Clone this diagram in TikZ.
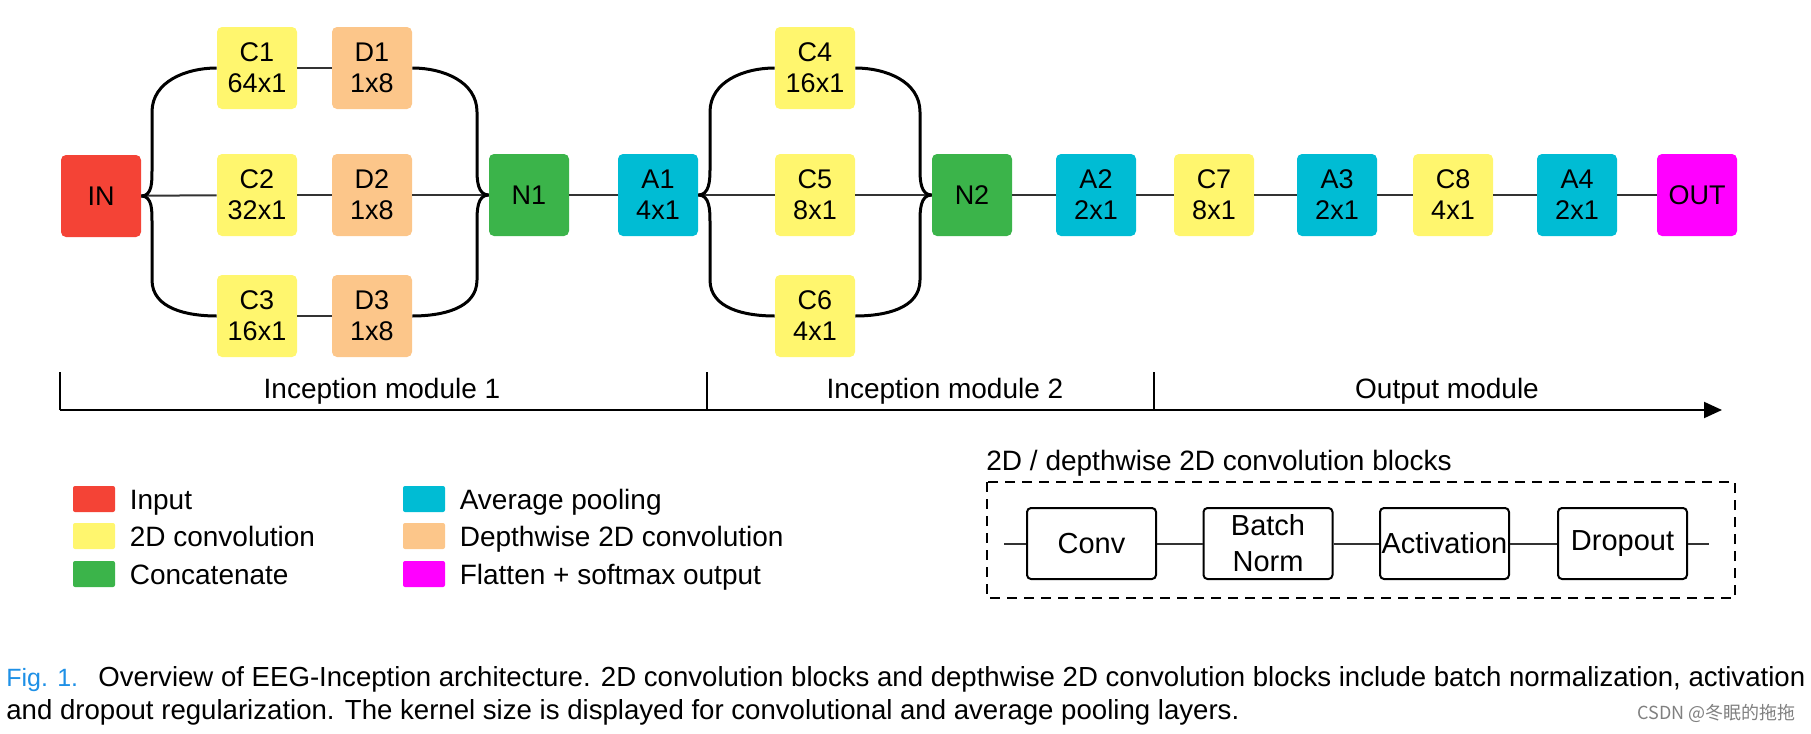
\documentclass[tikz,border=0pt]{standalone}
\usepackage{fontspec}
\setmainfont{Liberation Sans}
\newfontfamily\cjkfont{Noto Sans CJK SC}
\usepackage{tikz}
\usetikzlibrary{positioning,arrows.meta}

\definecolor{inred}{RGB}{244,67,54}
\definecolor{convyellow}{RGB}{255,246,110}
\definecolor{dwpeach}{RGB}{252,198,138}
\definecolor{catgreen}{RGB}{59,180,74}
\definecolor{poolcyan}{RGB}{0,188,212}
\definecolor{outmag}{RGB}{255,0,255}
\definecolor{figblue}{RGB}{30,144,230}
\definecolor{linegray}{RGB}{51,51,51}

\tikzset{
  layer/.style={rounded corners=2.5pt, minimum width=40pt, minimum height=41pt, inner sep=0pt, align=center, font=\fontsize{13.5}{15.5}\selectfont},
  link/.style={draw=linegray, line width=1pt},
  brace/.style={draw=black, line width=1.5pt},
  swatch/.style={rounded corners=1pt, minimum width=21pt, minimum height=13pt, inner sep=0pt},
  legtext/.style={inner sep=0pt, text height=12pt, text depth=2pt, font=\fontsize{14}{16}\selectfont},
  blockbox/.style={draw=black, line width=1pt, rounded corners=2pt, minimum width=64.5pt, minimum height=35.5pt, inner sep=0pt, align=center, font=\fontsize{14.5}{18}\selectfont},
  captext/.style={anchor=base west, inner sep=0pt, font=\fontsize{13.8}{16}\selectfont},
}

\begin{document}
\begin{tikzpicture}[x=0.5pt, y=0.5pt]
\useasboundingbox (0,0) rectangle (1811,-734);

% Layers
\node[layer, fill=inred] (IN) at (101,-196) {IN};
\node[layer, fill=convyellow] (C1) at (257,-68) {C1\\64x1};
\node[layer, fill=convyellow] (C2) at (257,-195) {C2\\32x1};
\node[layer, fill=convyellow] (C3) at (257,-316) {C3\\16x1};
\node[layer, fill=dwpeach] (D1) at (372,-68) {D1\\1x8};
\node[layer, fill=dwpeach] (D2) at (372,-195) {D2\\1x8};
\node[layer, fill=dwpeach] (D3) at (372,-316) {D3\\1x8};
\node[layer, fill=catgreen] (N1) at (529,-195) {N1};
\node[layer, fill=poolcyan] (A1) at (658,-195) {A1\\4x1};
\node[layer, fill=convyellow] (C4) at (815,-68) {C4\\16x1};
\node[layer, fill=convyellow] (C5) at (815,-195) {C5\\8x1};
\node[layer, fill=convyellow] (C6) at (815,-316) {C6\\4x1};
\node[layer, fill=catgreen] (N2) at (972,-195) {N2};
\node[layer, fill=poolcyan] (A2) at (1096,-195) {A2\\2x1};
\node[layer, fill=convyellow] (C7) at (1214,-195) {C7\\8x1};
\node[layer, fill=poolcyan] (A3) at (1337,-195) {A3\\2x1};
\node[layer, fill=convyellow] (C8) at (1453,-195) {C8\\4x1};
\node[layer, fill=poolcyan] (A4) at (1577,-195) {A4\\2x1};
\node[layer, fill=outmag] (OUT) at (1697,-195) {OUT};

% Straight links
\foreach \a/\b in {IN/C2,C1/D1,C2/D2,C3/D3,D2/N1,N1/A1,A1/C5,C5/N2,N2/A2,A2/C7,C7/A3,A3/C8,C8/A4,A4/OUT}
    \draw[link] (\a) -- (\b);

% Braces
\draw[brace] (IN.east) to[out=0,in=-90] (152,-170) -- (152,-112) to[out=90,in=180] (C1.west);
\draw[brace] (IN.east) to[out=0,in=90] (152,-222) -- (152,-280) to[out=-90,in=180] (C3.west);
\draw[brace] (D1.east) to[out=0,in=90] (477,-112) -- (477,-170) to[out=-90,in=180] (N1.west);
\draw[brace] (D3.east) to[out=0,in=-90] (477,-280) -- (477,-222) to[out=90,in=180] (N1.west);
\draw[brace] (A1.east) to[out=0,in=-90] (710,-170) -- (710,-112) to[out=90,in=180] (C4.west);
\draw[brace] (A1.east) to[out=0,in=90] (710,-222) -- (710,-280) to[out=-90,in=180] (C6.west);
\draw[brace] (C4.east) to[out=0,in=90] (920,-112) -- (920,-170) to[out=-90,in=180] (N2.west);
\draw[brace] (C6.east) to[out=0,in=-90] (920,-280) -- (920,-222) to[out=90,in=180] (N2.west);

% Module axis
\coordinate (ax0) at (60,-410);
\coordinate (ax1) at (707,-410);
\coordinate (ax2) at (1154,-410);
\coordinate (axend) at (1722,-410);
\draw[line width=1pt, -{Triangle[length=9pt,width=8pt]}] (ax0) -- (axend);
\foreach \t in {ax0,ax1,ax2}
    \draw[line width=0.8pt] (\t) -- ++(0,38);
\node[legtext] (mod1) at (382,-388) {Inception module 1};
\node[legtext] (mod2) at (945,-388) {Inception module 2};
\node[legtext] (mod3) at (1447,-388) {Output module};

% Legend
\node[swatch, fill=inred] (sw1) at (94,-499) {};
\node[swatch, fill=convyellow] (sw2) at (94,-536) {};
\node[swatch, fill=catgreen] (sw3) at (94,-574) {};
\node[swatch, fill=poolcyan] (sw4) at (424,-499) {};
\node[swatch, fill=dwpeach] (sw5) at (424,-536) {};
\node[swatch, fill=outmag] (sw6) at (424,-574) {};
\node[legtext, right=7pt of sw1] (lt1) {Input};
\node[legtext, right=7pt of sw2] (lt2) {2D convolution};
\node[legtext, right=7pt of sw3] (lt3) {Concatenate};
\node[legtext, right=7pt of sw4] (lt4) {Average pooling};
\node[legtext, right=7pt of sw5] (lt5) {Depthwise 2D convolution};
\node[legtext, right=7pt of sw6] (lt6) {Flatten + softmax output};

% Conv block detail
\node[legtext, anchor=west] (blktitle) at (986,-460) {2D / depthwise 2D convolution blocks};
\draw[line width=0.8pt, dash pattern=on 5pt off 3.5pt] (987,-482) rectangle (1735,-598);
\node[blockbox] (conv) at (1091.5,-543.5) {Conv};
\node[blockbox] (bnorm) at (1268,-543.5) {Batch\\Norm};
\node[blockbox] (act) at (1444.5,-543.5) {Activation};
\node[blockbox] (drop) at (1622.5,-543.5) {Dropout};
\coordinate (stubL) at (1004,-543.5);
\coordinate (stubR) at (1709,-543.5);
\draw[link] (stubL) -- (conv);
\draw[link] (conv) -- (bnorm);
\draw[link] (bnorm) -- (act);
\draw[link] (act) -- (drop);
\draw[link] (drop) -- (stubR);

% Caption
\node[captext, text=figblue, font=\fontsize{12.5}{15}\selectfont] (figno) at (6,-686) {Fig. 1.};
\node[captext] (cap1) at (98,-686) {Overview of EEG-Inception architecture. 2D convolution blocks and depthwise 2D convolution blocks include batch normalization, activation};
\node[captext] (cap2) at (6,-719) {and dropout regularization. The kernel size is displayed for convolutional and average pooling layers.};
\node[anchor=base east, inner sep=0pt, text=gray, font=\fontsize{9}{11}\selectfont] (wm) at (1796,-719) {\cjkfont CSDN @冬眠的拖拖};
\end{tikzpicture}
\end{document}
